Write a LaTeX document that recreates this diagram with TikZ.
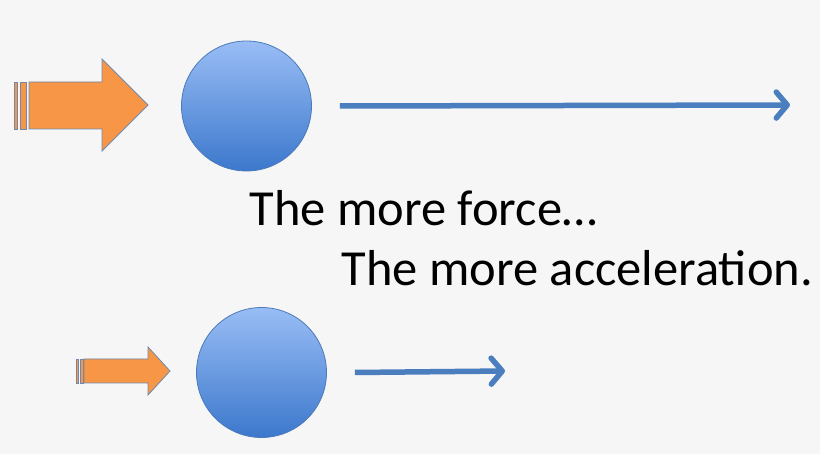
\documentclass[tikz,border=0pt]{standalone}
\usepackage{fontspec}
\setmainfont{Carlito}
\usetikzlibrary{arrows.meta}
\definecolor{bgcol}{HTML}{F6F6F6}
\definecolor{balltop}{HTML}{99BDF5}
\definecolor{ballbottom}{HTML}{3C78CC}
\definecolor{ballline}{HTML}{4A7AB8}
\definecolor{pushfill}{HTML}{F79646}
\definecolor{pushline}{HTML}{6F88AC}
\definecolor{accline}{HTML}{4A7EBF}
\begin{document}
\begin{tikzpicture}
	[x=1pt,y=-1pt,
	ball/.style={circle,draw=ballline,line width=0.8pt,top color=balltop,bottom color=ballbottom,minimum size=130pt,inner sep=0pt},
	push/.style={fill=pushfill,draw=pushline,line width=0.8pt,line join=miter},
	accel/.style={draw=accline,line width=5.5pt,-{Straight Barb[round,length=11pt,width=26pt]}},
	words/.style={anchor=base west,inner sep=0pt,font=\fontsize{50.5}{60}\selectfont}
	]
	\path[use as bounding box,fill=bgcol] (0,0) rectangle (820,454);
	% big push
	\draw[push] (14,82) rectangle (17,129);
	\draw[push] (20,82) rectangle (26,129);
	\draw[push] (29,82) -- (102,82) -- (102,59) -- (148,105) -- (102,151) -- (102,129) -- (29,129) -- cycle;
	\node[ball] (ballbig) at (246.5,106) {};
	\coordinate (accbigend) at (790,105);
	\draw[accel] ([xshift=28pt]ballbig.east) -- (accbigend);
	% texts
	\node[words] (forcetext) at (249.5,225.5) {The more force…};
	\node[words] (acceltext) at (341.5,286) {The more acceleration.};
	% small push
	\draw[push] (76,359) rectangle (78.5,383);
	\draw[push] (80,359) rectangle (83,383);
	\draw[push] (84,359) -- (148,359) -- (148,347) -- (170,371) -- (148,395) -- (148,383) -- (84,383) -- cycle;
	\node[ball] (ballsmall) at (261.5,372.5) {};
	\coordinate (accsmallend) at (505,371);
	\draw[accel] ([xshift=28pt]ballsmall.east) -- (accsmallend);
\end{tikzpicture}
\end{document}
